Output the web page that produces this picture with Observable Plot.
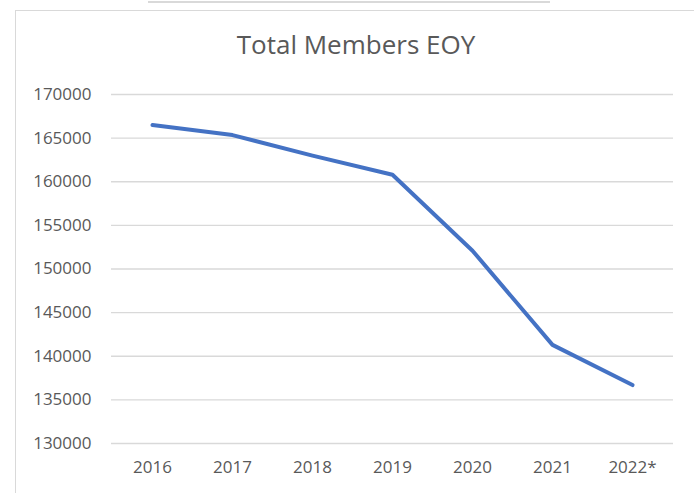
<!DOCTYPE html>
<html>
<head>
<meta charset="utf-8">
<script src="https://cdn.jsdelivr.net/npm/d3@7"></script>
<script src="https://cdn.jsdelivr.net/npm/@observablehq/plot@0.6"></script>
<style>
  html, body { margin: 0; padding: 0; background: #fff; }
  body { width: 694px; height: 493px; position: relative; overflow: hidden; font-family: "Open Sans", sans-serif; }
  #topline { position: absolute; left: 148px; top: 1px; width: 402px; height: 0; border-top: 2px solid #d9d9d9; }
  #frame { position: absolute; left: 15px; top: 10px; width: 720px; height: 520px; border: 1px solid #d9d9d9; box-sizing: border-box; }
  #title { position: absolute; left: 0; width: 712px; top: 26px; text-align: center; font-size: 26px; color: #595959; }
  #chart { position: absolute; left: 0; top: 0; }
</style>
</head>
<body>
<div id="topline"></div>
<div id="frame"></div>
<div id="title">Total Members EOY</div>
<div id="chart"></div>
<script>
const years = ["2016", "2017", "2018", "2019", "2020", "2021", "2022*"];
const members = [166500, 165350, 163000, 160800, 152100, 141300, 136700];
const yTicks = [130000, 135000, 140000, 145000, 150000, 155000, 160000, 165000, 170000];

const data = years.map((year, i) => ({year, members: members[i]}));

const chart = Plot.plot({
  width: 694,
  height: 493,
  marginLeft: 111,
  marginRight: 21,
  marginTop: 94,
  marginBottom: 50,
  style: {fontFamily: "'Open Sans', sans-serif", fontSize: "17px", color: "#595959", background: "transparent"},
  x: {type: "point", domain: years, padding: 0.5, label: null},
  y: {domain: [130000, 170000], label: null},
  marks: [
    Plot.ruleY(yTicks, {stroke: "#d9d9d9", strokeWidth: 1.3, strokeOpacity: 1}),
    Plot.axisY({ticks: yTicks, tickSize: 0, tickPadding: 20, tickFormat: d => String(d), label: null, fill: "#595959"}),
    Plot.axisX({tickSize: 0, tickPadding: 17, label: null, fill: "#595959"}),
    Plot.line(data, {x: "year", y: "members", stroke: "#4472C4", strokeWidth: 4, strokeLinecap: "round", strokeLinejoin: "round"})
  ]
});
document.getElementById("chart").appendChild(chart);
</script>
</body>
</html>
